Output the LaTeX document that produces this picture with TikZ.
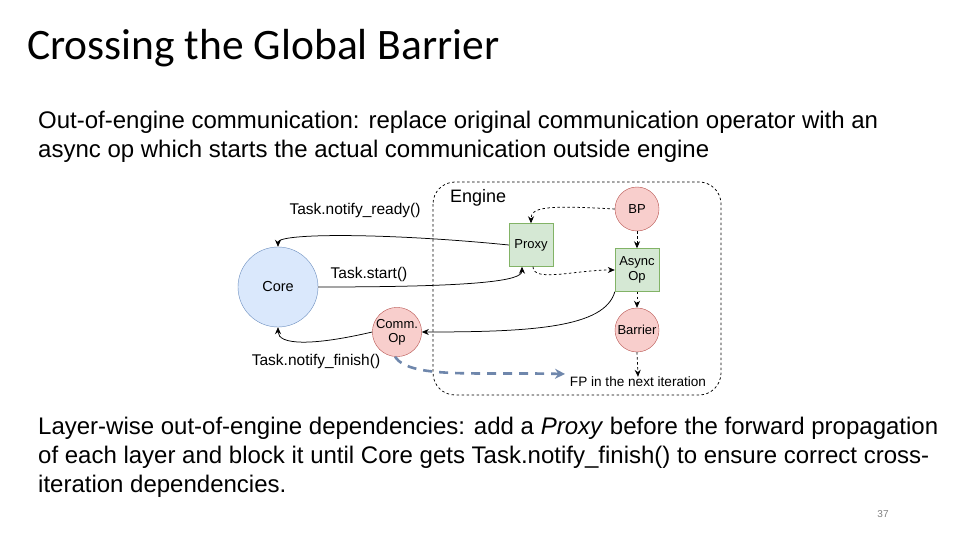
\documentclass[tikz,border=0pt]{standalone}
\usepackage{fontspec}
\setmainfont{Liberation Sans}
\newfontfamily\titlefont{Carlito}
\usetikzlibrary{arrows.meta,calc}
\definecolor{bfill}{HTML}{DAE8FC}
\definecolor{bdraw}{HTML}{6C8EBF}
\definecolor{rfill}{HTML}{F8CECC}
\definecolor{rdraw}{HTML}{B85450}
\definecolor{gfill}{HTML}{D5E8D4}
\definecolor{gdraw}{HTML}{82B366}
\definecolor{flowblue}{HTML}{6F87AC}
\tikzset{
  redcirc/.style={circle, fill=rfill, draw=rdraw, minimum size=44pt, inner sep=0pt, align=center, font=\fontsize{13}{14}\selectfont},
  greenbox/.style={rectangle, fill=gfill, draw=gdraw, minimum width=44pt, minimum height=43pt, inner sep=0pt, align=center, font=\fontsize{13}{15}\selectfont},
  solidarrow/.style={draw=black, line width=0.75pt, -{Stealth[length=7pt,width=6pt]}},
  dasharrow/.style={draw=black, line width=0.75pt, dash pattern=on 2.5pt off 2.5pt, -{Stealth[length=7pt,width=6pt]}},
  lbl/.style={font=\fontsize{15.5}{17}\selectfont, inner sep=0pt},
  bodytext/.style={anchor=north west, inner sep=0pt, align=left, font=\fontsize{24}{29}\selectfont}
}
\begin{document}
\begin{tikzpicture}[x=1pt, y=-1pt]
\useasboundingbox (0,0) rectangle (960,540);
\fill[white] (0,0) rectangle (960,540);

% title and body text
\node[anchor=base west, inner sep=0pt, font=\titlefont\fontsize{43.5}{48}\selectfont] (title) at (27,60) {Crossing the Global Barrier};
\node[bodytext] (p1) at (38,111) {Out-of-engine communication: replace original communication operator with an\\async op which starts the actual communication outside engine};
\node[bodytext] (p2) at (38,417) {Layer-wise out-of-engine dependencies: add a \textit{Proxy} before the forward propagation\\of each layer and block it until Core gets Task.notify\_finish() to ensure correct cross-\\iteration dependencies.};
\node[font=\fontsize{10}{11}\selectfont, text=gray, inner sep=0pt] (pagenum) at (883,514) {37};

% engine box
\draw[line width=0.75pt, dash pattern=on 2.5pt off 2.5pt, rounded corners=22pt] (433,182) rectangle (721,395);
\node[lbl, font=\fontsize{18}{20}\selectfont, anchor=west] (enginelbl) at (450,198) {Engine};

% nodes
\node[circle, fill=bfill, draw=bdraw, minimum size=80pt, inner sep=0pt, font=\fontsize{14.5}{16}\selectfont] (core) at (278,287) {Core};
\node[redcirc] (comm) at (397,332) {Comm.\\Op};
\node[greenbox] (proxy) at (531,245) {Proxy};
\node[redcirc] (bp) at (637,209) {BP};
\node[greenbox] (async) at (637,270) {Async\\Op};
\node[redcirc] (barrier) at (637,330) {Barrier};
\node[lbl, font=\fontsize{13.6}{15}\selectfont] (fp) at (638,382) {FP in the next iteration};

% edge labels
\node[lbl] (lready) at (355,210) {Task.notify\_ready()};
\node[lbl] (lstart) at (369,274) {Task.start()};
\node[lbl] (lfinish) at (316,361) {Task.notify\_finish()};

% solid connectors
\draw[solidarrow] (proxy.west) .. controls +(-120,-12) and +(0,-14) .. (core.north);
\coordinate (proxyin) at ($(proxy.south)+(-9,0)$);
\draw[solidarrow] (core.east) .. controls +(160,0) and +(0,14) .. (proxyin);
\draw[solidarrow] (async.south west) .. controls +(-10,36) and +(110,0) .. (comm.east);
\draw[solidarrow] (comm.west) .. controls +(-60,14) and +(0,18) .. (core.south);

% dashed connectors
\draw[dasharrow] (bp.west) .. controls +(-70,-4) and +(0,-16) .. (proxy.north);
\coordinate (proxyout) at ($(proxy.south)+(2,0)$);
\draw[dasharrow] (proxyout) .. controls +(0,16) and +(-40,0) .. (async.west);
\draw[dasharrow] (bp.south) -- (async.north);
\draw[dasharrow] (async.south) -- (barrier.north);
\draw[dasharrow] (barrier.south) -- (fp.north);

% blue dashed flow
\coordinate (bluetip) at (565,374);
\draw[draw=flowblue, line width=2.6pt, dash pattern=on 9pt off 7pt, -{Stealth[length=10pt,width=10pt]}] ($(comm.south)+(-2,0)$) .. controls +(15,22) and +(-90,-2) .. (bluetip);
\end{tikzpicture}
\end{document}
